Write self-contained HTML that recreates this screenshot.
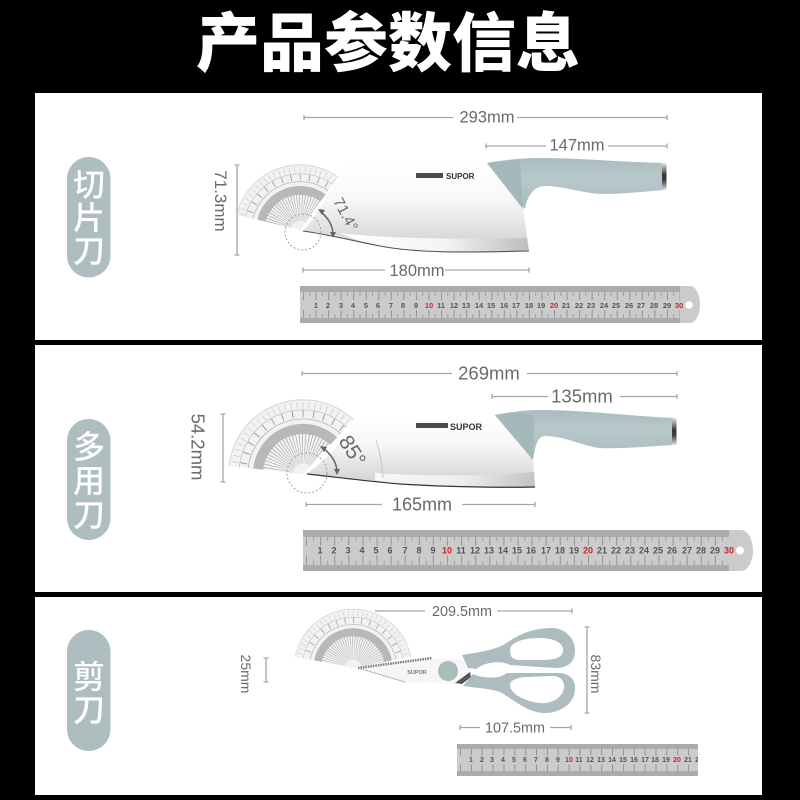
<!DOCTYPE html>
<html lang="zh"><head><meta charset="utf-8"><title>产品参数信息</title>
<style>
html,body{margin:0;padding:0;background:#000;width:800px;height:800px;overflow:hidden}
svg{display:block;filter:blur(.35px)}
.d{font-family:"Liberation Sans",sans-serif;fill:#6a6a6a}
.l{stroke:#a6a6a6;stroke-width:1.3;fill:none}
.p{font-family:"Liberation Sans","Noto Sans CJK SC",sans-serif;fill:#fff;font-size:32px;font-weight:500;text-anchor:middle}
.n{font-family:"Liberation Sans",sans-serif;fill:#555;text-anchor:middle;font-weight:bold}
.r{fill:#c8262f}
.s{font-family:"Liberation Sans",sans-serif;font-weight:bold;fill:#333}
</style></head><body>
<svg width="800" height="800" viewBox="0 0 800 800" xmlns="http://www.w3.org/2000/svg">
<defs>
<linearGradient id="bl" x1="0" y1="0" x2="0" y2="1"><stop offset="0" stop-color="#fff"/><stop offset=".4" stop-color="#f8f8f8"/><stop offset=".8" stop-color="#dcdcdc"/><stop offset="1" stop-color="#cfcfcf"/></linearGradient>
<linearGradient id="bv" x1="0" y1="0" x2="1" y2="0"><stop offset="0" stop-color="#fff"/><stop offset=".55" stop-color="#f4f4f4"/><stop offset="1" stop-color="#bdbdbd"/></linearGradient>
<linearGradient id="hd" x1="0" y1="0" x2="0" y2="1"><stop offset="0" stop-color="#a9bcbf"/><stop offset=".4" stop-color="#b8c8ca"/><stop offset="1" stop-color="#a8bbbe"/></linearGradient>
<linearGradient id="fe" x1="0" y1="0" x2="0" y2="1"><stop offset="0" stop-color="#e4e4e4"/><stop offset=".45" stop-color="#333"/><stop offset=".65" stop-color="#444"/><stop offset="1" stop-color="#ddd"/></linearGradient>
<g id="pro" fill="none">
<circle r="70" fill="#f0f2f2" fill-opacity=".9" stroke="#d6d6d6" stroke-width="1"/>
<circle r="65" stroke="#cfcfcf" stroke-width="6" pathLength="360" stroke-dasharray=".7 4.3"/>
<circle r="57" stroke="#9a9a9a" stroke-width="7" pathLength="360" stroke-dasharray=".9 9.1"/>
<circle r="60.5" stroke="#c4c4c4" stroke-width=".8"/>
<circle r="52" stroke="#b5b5b5" stroke-width=".8"/>
<circle r="42.5" stroke="#b8b8b8" stroke-width="9.5"/>
<circle r="24" stroke="#a0a0a0" stroke-width="28" pathLength="360" stroke-dasharray="1.1 3.9"/>
</g>
<clipPath id="c1"><polygon points="300,230 205,207 205,130 361,130 361,145"/></clipPath>
<clipPath id="c2"><polygon points="303,474 201,463 201,380 381,380 381,390"/></clipPath>
<clipPath id="c3"><polygon points="353,668 266,651 266,590 440,590 440,651"/></clipPath>
<clipPath id="r3c"><rect x="457" y="744" width="241" height="32"/></clipPath>
</defs>

<rect width="800" height="800" fill="#000"/>
<rect x="35" y="93" width="727" height="247" fill="#fff"/>
<rect x="35" y="345" width="727" height="247" fill="#fff"/>
<rect x="35" y="597" width="727" height="198" fill="#fff"/>

<text x="388" y="66" text-anchor="middle" font-family="'Liberation Sans','Noto Sans CJK SC',sans-serif" font-size="64" font-weight="900" fill="#fff">产品参数信息</text>

<!-- pills -->
<rect x="67" y="157" width="43.5" height="120.5" rx="21.7" fill="#aebdc0"/>
<rect x="67" y="419" width="43.5" height="121" rx="21.7" fill="#aebdc0"/>
<rect x="67" y="630" width="43.5" height="121" rx="21.7" fill="#aebdc0"/>
<text class="p" x="89" y="196">切</text><text class="p" x="89" y="229">片</text><text class="p" x="89" y="262">刀</text>
<text class="p" x="89" y="458">多</text><text class="p" x="89" y="492">用</text><text class="p" x="89" y="526">刀</text>
<text class="p" x="89" y="688">剪</text><text class="p" x="89" y="721">刀</text>

<!-- KNIFE 1 -->
<path d="M345,166 L487,164 L523,209 L529,251 C480,252 420,254 380,246 C350,240 325,234 303,231 C315,220 330,190 345,166 Z" fill="url(#bl)"/>
<path d="M340,233 C380,238 450,240 527,238 L529,251 C480,252 420,254 380,246 C365,243 350,238 340,233 Z" fill="url(#bv)"/>
<path d="M303,231 C325,234 350,240 380,246 C420,254 480,252 529,251" fill="none" stroke="#555" stroke-width="1.1"/>
<g clip-path="url(#c1)"><use href="#pro" transform="translate(300,230) scale(.93)"/></g>
<circle cx="303" cy="232" r="18" fill="none" stroke="#999" stroke-width=".9" stroke-dasharray="2 2"/>
<path d="M321,212 Q333,222 333,235" fill="none" stroke="#666" stroke-width="1.5"/>
<path d="M318,209 l7,1 -3,5z M333,238 l-3,-6 6,0z" fill="#666"/>
<text class="d" font-size="15" transform="translate(333,201) rotate(62)">71.4°</text>
<rect x="416" y="173" width="27" height="5" fill="#4a4a4a"/>
<text class="s" x="446" y="179" font-size="8">SUPOR</text>
<path d="M487,163 C505,160 520,158 540,158 C580,158 620,162 662,163 L664,190 C640,192 620,194 603,194 C585,194 565,186 545,186 C534,186 527,196 525,209 Z" fill="url(#hd)"/>
<path d="M487,163 C497,161 510,160 520,160 L523,209 Z" fill="#a4b7ba"/>
<rect x="662" y="163" width="4.5" height="27" rx="2" fill="url(#fe)"/>

<!-- KNIFE 1 dims -->
<g class="l">
<path d="M304,117.5H453M304,115V120M517,117.5H667M667,115V120"/>
<path d="M486,146H546M486,143.5V148.5M608,146H667M667,143.5V148.5"/>
<path d="M237,165V255M234.5,165H239.5M234.5,255H239.5"/>
<path d="M303,270H385M303,267.5V272.5M445,270H529M529,267.5V272.5"/>
</g>
<text class="d" x="487" y="122.5" font-size="16.500" text-anchor="middle">293mm</text>
<text class="d" x="577" y="150.5" font-size="16.500" text-anchor="middle">147mm</text>
<text class="d" x="417" y="276" font-size="16.500" text-anchor="middle">180mm</text>
<text class="d" font-size="17" text-anchor="middle" transform="translate(215,201) rotate(90)">71.3mm</text>

<!-- RULER 1 -->
<path d="M300,286H690a10,18.5 0 0 1 10,18.5a10,18.5 0 0 1 -10,18.5H300Z" fill="#cbcbcb"/>
<rect x="300" y="286" width="380" height="6" fill="#ababab"/><rect x="300" y="318" width="380" height="5" fill="#ababab"/>
<path d="M303,296H680M303,314H680" stroke="#929292" stroke-width="8" stroke-dasharray="1 11.55" fill="none"/>
<path d="M303,294H680M303,316H680" stroke="#a0a0a0" stroke-width="4" stroke-dasharray="1 5.275" fill="none"/>
<circle cx="689" cy="305" r="3.8" fill="#fff"/>
<g class="n" font-size="7.5">
<text x="316" y="308">1</text><text x="328" y="308">2</text><text x="341" y="308">3</text><text x="353" y="308">4</text><text x="366" y="308">5</text><text x="378" y="308">6</text><text x="391" y="308">7</text><text x="403" y="308">8</text><text x="416" y="308">9</text><text class="r" x="429" y="308">10</text><text x="441" y="308">11</text><text x="454" y="308">12</text><text x="466" y="308">13</text><text x="479" y="308">14</text><text x="491" y="308">15</text><text x="504" y="308">16</text><text x="516" y="308">17</text><text x="529" y="308">18</text><text x="541" y="308">19</text><text class="r" x="554" y="308">20</text><text x="566" y="308">21</text><text x="579" y="308">22</text><text x="591" y="308">23</text><text x="604" y="308">24</text><text x="616" y="308">25</text><text x="629" y="308">26</text><text x="641" y="308">27</text><text x="654" y="308">28</text><text x="667" y="308">29</text><text class="r" x="679" y="308">30</text>
</g>

<!-- KNIFE 2 -->
<path d="M360,416 L495,415 L533,460 L535,487 C490,488 430,486 400,484 C365,481 335,477 307,474 C325,460 345,440 360,416 Z" fill="url(#bl)"/>
<path d="M375,473 C420,476 490,477 534,472 L535,487 C490,488 430,486 400,484 C390,483 380,481 375,480Z" fill="url(#bv)" opacity=".8"/>
<path d="M376,440 Q382,458 383,478" fill="none" stroke="#c4c4c4" stroke-width="1"/>
<path d="M307,474 C335,477 365,481 400,484 C430,486 490,488 535,487" fill="none" stroke="#333" stroke-width="1.2"/>
<g clip-path="url(#c2)"><use href="#pro" transform="translate(303,474) scale(1.06)"/></g>
<circle cx="307" cy="473" r="20" fill="none" stroke="#999" stroke-width=".9" stroke-dasharray="2 2"/>
<path d="M323,448 Q336,458 337,471" fill="none" stroke="#666" stroke-width="1.5"/>
<path d="M320,446 l7,1 -3,5z M337,475 l-3,-6 6,0z" fill="#666"/>
<text class="d" font-size="21" transform="translate(338,441) rotate(58)">85°</text>
<rect x="416" y="423" width="32" height="5" fill="#4a4a4a"/>
<text class="s" x="450" y="430" font-size="9">SUPOR</text>
<path d="M495,415 C510,412 525,410 540,410 C580,410 620,415 673,418 L672,445 C640,447 620,449 600,448 C585,447 565,436 545,436 C537,436 535,448 533,460 Z" fill="url(#hd)"/>
<path d="M495,415 C510,413 520,413 530,414 Q535,417 534,425 L533,460 Z" fill="#a4b7ba"/>
<rect x="672" y="418" width="4.5" height="27" rx="2" fill="url(#fe)"/>

<g class="l">
<path d="M302,373.5H452M302,371V376M527,373.5H677M677,371V376"/>
<path d="M492,396.5H548M492,394V399M620,396.5H677M677,394V399"/>
<path d="M223,414V482M220.5,414H225.5M220.5,482H225.5"/>
<path d="M306,504.5H382M306,502V507M462,504.5H535M535,502V507"/>
</g>
<text class="d" x="489" y="379.5" font-size="18.500" text-anchor="middle">269mm</text>
<text class="d" x="582" y="402.5" font-size="18.500" text-anchor="middle">135mm</text>
<text class="d" x="422" y="510.5" font-size="18" text-anchor="middle">165mm</text>
<text class="d" font-size="18.500" text-anchor="middle" transform="translate(191.5,447) rotate(90)">54.2mm</text>

<!-- RULER 2 -->
<path d="M303,530H741a12,20.5 0 0 1 12,20.5a12,20.5 0 0 1 -12,20.5H303Z" fill="#cbcbcb"/>
<rect x="303" y="530" width="426" height="7" fill="#ababab"/><rect x="303" y="565" width="426" height="6" fill="#ababab"/>
<path d="M306,541H729M306,560H729" stroke="#929292" stroke-width="9" stroke-dasharray="1 13.1" fill="none"/>
<path d="M306,539H729M306,563H729" stroke="#a0a0a0" stroke-width="4" stroke-dasharray="1 6.05" fill="none"/>
<circle cx="740" cy="550.5" r="4" fill="#fff"/>
<g class="n" font-size="9">
<text x="320" y="553.5">1</text><text x="334" y="553.5">2</text><text x="348" y="553.5">3</text><text x="362" y="553.5">4</text><text x="376" y="553.5">5</text><text x="390" y="553.5">6</text><text x="405" y="553.5">7</text><text x="419" y="553.5">8</text><text x="433" y="553.5">9</text><text class="r" x="447" y="553.5">10</text><text x="461" y="553.5">11</text><text x="475" y="553.5">12</text><text x="489" y="553.5">13</text><text x="503" y="553.5">14</text><text x="517" y="553.5">15</text><text x="531" y="553.5">16</text><text x="546" y="553.5">17</text><text x="560" y="553.5">18</text><text x="574" y="553.5">19</text><text class="r" x="588" y="553.5">20</text><text x="602" y="553.5">21</text><text x="616" y="553.5">22</text><text x="630" y="553.5">23</text><text x="644" y="553.5">24</text><text x="658" y="553.5">25</text><text x="672" y="553.5">26</text><text x="687" y="553.5">27</text><text x="701" y="553.5">28</text><text x="715" y="553.5">29</text><text class="r" x="729" y="553.5">30</text>
</g>

<!-- SCISSORS -->
<g clip-path="url(#c3)"><use href="#pro" transform="translate(353,668) scale(.84)"/></g>
<path d="M358,668 L432,658 L468,660 L471,672 L456,684 L430,682 L405,683 Z" fill="#f6f6f6"/>
<path d="M358,668 L432,658" stroke="#777" stroke-width="2.5" stroke-dasharray="1.5 1" fill="none"/>
<path d="M358,668 L405,682" stroke="#aaa" stroke-width=".8" fill="none"/>
<circle cx="448" cy="671" r="10" fill="#a9bcbd"/>
<path d="M455,683 L470,672 L471,677 L462,684 Z" fill="#555"/>
<text x="417" y="674" font-family="'Liberation Sans',sans-serif" font-size="5.5" font-weight="bold" fill="#777" text-anchor="middle">SUPOR</text>
<path fill-rule="evenodd" fill="#adbdbf" d="M462,655 C480,652 497,650 508,642 C522,632 538,628 552,628 C566,628 576,640 575,652 C574,664 566,668 555,668 L510,665 C500,660 485,662 476,669 L468,668 Z M510,650 C510,642 524,638 540,638 C552,638 564,642 563,651 C562,659 552,660 540,660 L518,660 C512,659 510,656 510,650 Z"/>
<path fill-rule="evenodd" fill="#adbdbf" d="M463,686 L473,674 C482,678 498,680 507,673 L560,673 C570,674 576,680 575,690 C574,704 560,713 545,713 C528,713 514,700 500,692 C488,688 475,688 463,686 Z M510,685 C510,680 518,677 528,677 L553,676 C561,676 565,682 564,688 C562,698 552,704 540,703 C528,702 510,695 510,685 Z"/>
<g class="l">
<path d="M375,611H425M497,611H572M572,608.5V613.5"/>
<path d="M460,727.5H480M460,725V730M550,727.5H571M571,725V730"/>
<path d="M587,627V713M584.5,627H589.5M584.5,713H589.5"/>
<path d="M266,658V682M263.5,658H268.5M263.5,682H268.5"/>
</g>
<text class="d" x="462" y="616" font-size="14.4" text-anchor="middle">209.5mm</text>
<text class="d" x="515" y="732.5" font-size="14.4" text-anchor="middle">107.5mm</text>
<text class="d" font-size="14" text-anchor="middle" transform="translate(591,674) rotate(90)">83mm</text>
<text class="d" font-size="14" text-anchor="middle" transform="translate(241,674) rotate(90)">25mm</text>

<!-- RULER 3 -->
<rect x="457" y="744" width="241" height="32" fill="#cbcbcb"/>
<rect x="457" y="744" width="241" height="5" fill="#ababab"/><rect x="457" y="771" width="241" height="5" fill="#ababab"/>
<path d="M460,752H698M460,768H698" stroke="#929292" stroke-width="7" stroke-dasharray="1 9.86" fill="none"/>
<g class="n" font-size="7" clip-path="url(#r3c)">
<text x="471" y="762">1</text><text x="482" y="762">2</text><text x="492" y="762">3</text><text x="503" y="762">4</text><text x="514" y="762">5</text><text x="525" y="762">6</text><text x="536" y="762">7</text><text x="547" y="762">8</text><text x="558" y="762">9</text><text class="r" x="569" y="762">10</text><text x="579" y="762">11</text><text x="590" y="762">12</text><text x="601" y="762">13</text><text x="612" y="762">14</text><text x="623" y="762">15</text><text x="634" y="762">16</text><text x="645" y="762">17</text><text x="655" y="762">18</text><text x="666" y="762">19</text><text class="r" x="677" y="762">20</text><text x="688" y="762">21</text><text x="699" y="762">22</text>
</g>
</svg>
</body></html>
